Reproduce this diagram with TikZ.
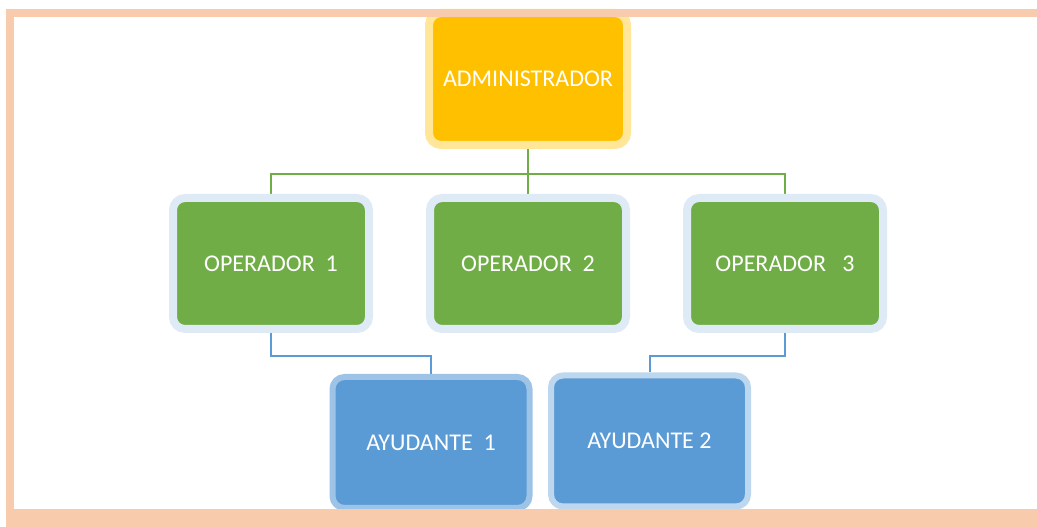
\documentclass[tikz,border=0pt]{standalone}
\usepackage{fontspec}
\setmainfont{Carlito}
\usetikzlibrary{positioning, backgrounds}

\definecolor{peach}{HTML}{F8CBAD}
\definecolor{admfill}{HTML}{FFC000}
\definecolor{admhalo}{HTML}{FFE699}
\definecolor{opfill}{HTML}{70AD47}
\definecolor{ophalo}{HTML}{DEEBF7}
\definecolor{ayfill}{HTML}{5B9BD5}
\definecolor{ayhaloa}{HTML}{9DC3E6}
\definecolor{ayhalob}{HTML}{BDD7EE}

\begin{document}
\begin{tikzpicture} [
						x=1pt, y=1pt,
						node distance=257pt,
						box/.style={rectangle, rounded corners=12pt, line width=8pt,
							minimum width=198pt, minimum height=132pt,
							text=white, font=\fontsize{24}{28}\selectfont},
						admbox/.style={box, fill=admfill, draw=admhalo},
						opbox/.style={box, fill=opfill, draw=ophalo,
							minimum width=196pt, minimum height=131pt},
						aybox/.style={box, fill=ayfill, line width=6pt,
							minimum width=197pt, minimum height=131pt},
						gline/.style={draw=opfill, line width=2pt},
						bline/.style={draw=ayfill, line width=2pt}
					]

\useasboundingbox (0,0) rectangle (1037,527);

\node (adm) [admbox] at (528,448) {ADMINISTRADOR};
\node (op2) [opbox, below of=adm, node distance=184.5pt] {OPERADOR\ \ 2};
\node (op1) [opbox, left of=op2] {OPERADOR\ \ 1};
\node (op3) [opbox, right of=op2] {OPERADOR\ \ \ 3};
\node (ay1) [aybox, draw=ayhaloa] at (431,84.5) {AYUDANTE\ \ 1};
\node (ay2) [aybox, draw=ayhalob] at (649.5,86) {AYUDANTE 2};

\begin{scope}[on background layer]
	\draw[gline] (adm.south) -- ++(0,-25) -| (op1.north);
	\draw[gline] (adm.south) -- ++(0,-25) -| (op3.north);
	\draw[gline] (adm.south) -- (op2.north);
	\draw[bline] (op1.south) -- ++(0,-23) -| (ay1.north);
	\draw[bline] (op3.south) -- ++(0,-23) -| (ay2.north);
\end{scope}

% frame
\fill[peach] (6,510) rectangle (1037,518);
\fill[peach] (6,0) rectangle (14,518);
\fill[peach] (6,0) rectangle (1037,18);
\end{tikzpicture}
\end{document}
